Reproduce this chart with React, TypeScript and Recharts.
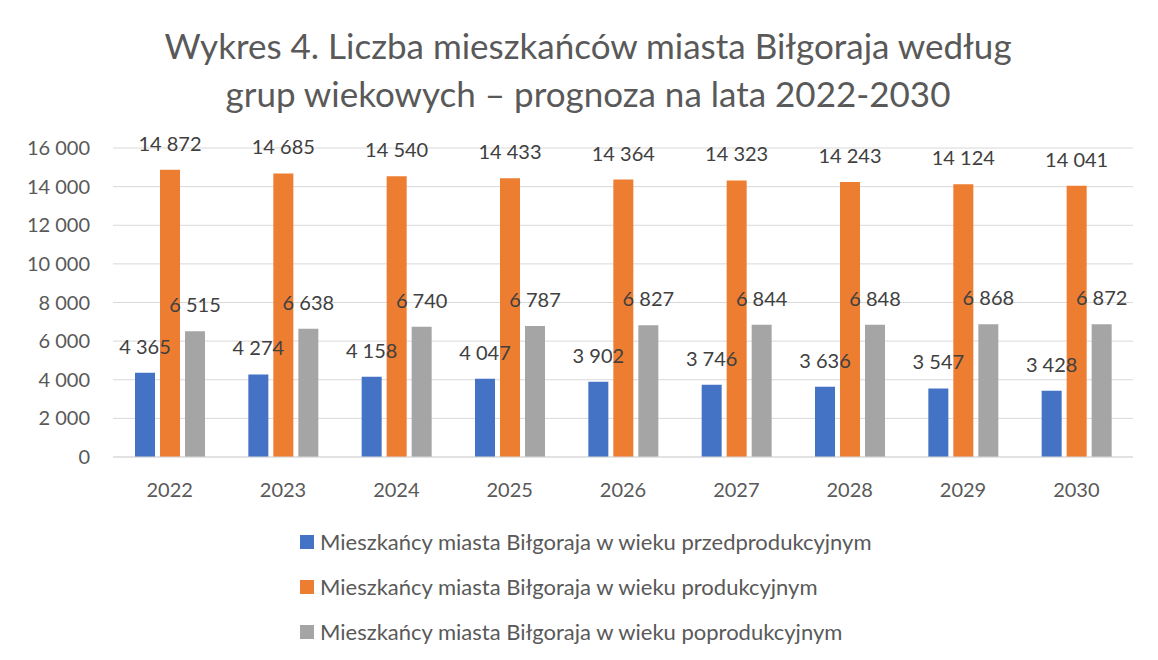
import { BarChart, Bar, XAxis, YAxis, CartesianGrid, LabelList, Legend } from 'recharts'

const years = ['2022', '2023', '2024', '2025', '2026', '2027', '2028', '2029', '2030']
const przed = [4365, 4274, 4158, 4047, 3902, 3746, 3636, 3547, 3428]
const prod = [14872, 14685, 14540, 14433, 14364, 14323, 14243, 14124, 14041]
const poprod = [6515, 6638, 6740, 6787, 6827, 6844, 6848, 6868, 6872]
const yTicks = [0, 2000, 4000, 6000, 8000, 10000, 12000, 14000, 16000]

const series = [
  { key: 'przed', name: 'Mieszkańcy miasta Biłgoraja w wieku przedprodukcyjnym', color: '#4472C4' },
  { key: 'prod', name: 'Mieszkańcy miasta Biłgoraja w wieku produkcyjnym', color: '#ED7D31' },
  { key: 'poprod', name: 'Mieszkańcy miasta Biłgoraja w wieku poprodukcyjnym', color: '#A5A5A5' },
]

const data = years.map((y, i) => ({ year: y, przed: przed[i], prod: prod[i], poprod: poprod[i] }))

const fmt = (v: any) => String(v).replace(/\B(?=(\d{3})+(?!\d))/g, ' ')

const font = 'Lato, "Open Sans", sans-serif'

// etykieta nad słupkiem, bez zawijania
const renderLabel = (p: any) => (
  <text
    x={p.x + p.width / 2}
    y={p.y - 19}
    textAnchor="middle"
    fill="#404040"
    fontSize={20}
    fontFamily={font}
  >
    {fmt(p.value)}
  </text>
)

function LegendBox() {
  return (
    <div style={{ fontFamily: font, textAlign: 'left' }}>
      {series.map((s) => (
        <div key={s.key} style={{ display: 'flex', alignItems: 'center', height: 45, fontSize: 22, color: '#595959' }}>
          <span style={{ width: 14, height: 14, background: s.color, display: 'inline-block', marginRight: 6 }} />
          {s.name}
        </div>
      ))}
    </div>
  )
}

export default function App() {
  return (
    <div
      style={{
        position: 'relative', width: 1160, height: 660, marginLeft: -2, marginTop: -4,
        borderTop: '2px solid #d9d9d9', borderLeft: '2px solid #d9d9d9',
        background: '#fff', overflow: 'hidden',
      }}
    >
      <div
        style={{
          position: 'absolute', left: -8, top: 15, width: 1176, textAlign: 'center',
          fontFamily: font, fontSize: 35, lineHeight: '48px', color: '#595959',
        }}
      >
        Wykres 4. Liczba mieszkańców miasta Biłgoraja według
        <br />
        grup wiekowych – prognoza na lata 2022-2030
      </div>
      <div style={{ position: 'absolute', left: -8, top: -6 }}>
        <BarChart
          width={1158}
          height={660}
          data={data}
          margin={{ top: 148, right: 25, left: 0, bottom: 0 }}
          barSize={20}
          barGap={5}
        >
          <CartesianGrid vertical={false} stroke="#d9d9d9" />
          <XAxis
            dataKey="year"
            tickLine={false}
            tickSize={0}
            tickMargin={26}
            axisLine={{ stroke: '#d9d9d9' }}
            tick={{ fill: '#595959', fontSize: 20, fontFamily: font }}
            height={203}
          />
          <YAxis
            width={113}
            domain={[0, 16000]}
            ticks={yTicks}
            interval={0}
            tickFormatter={fmt}
            tickLine={false}
            axisLine={false}
            tickSize={0}
            tickMargin={23}
            tick={{ fill: '#595959', fontSize: 20, fontFamily: font }}
          />
          {series.map((s) => (
            <Bar key={s.key} dataKey={s.key} name={s.name} fill={s.color} isAnimationActive={false}>
              <LabelList dataKey={s.key} content={renderLabel} />
            </Bar>
          ))}
          <Legend
            layout="vertical"
            align="center"
            verticalAlign="middle"
            content={() => <LegendBox />}
            wrapperStyle={{ position: 'absolute', left: 300, top: 519, width: 800 }}
          />
        </BarChart>
      </div>
    </div>
  )
}
